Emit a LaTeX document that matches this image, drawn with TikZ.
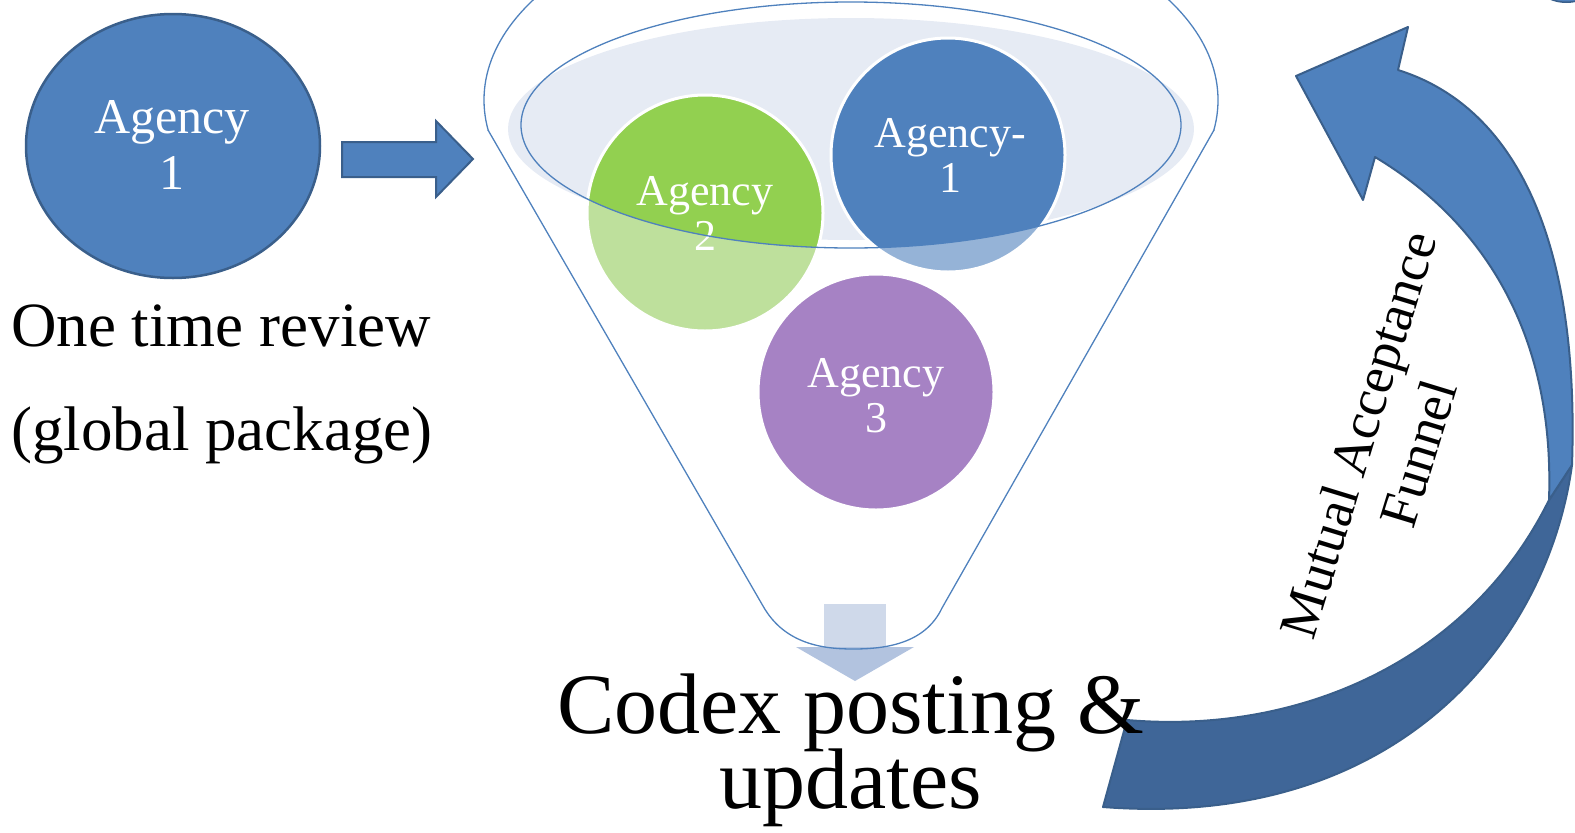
\documentclass[tikz,border=0pt]{standalone}
\usepackage{fontspec}
\setmainfont{Liberation Serif}
\definecolor{mblue}{HTML}{4F81BD}
\definecolor{dblue}{HTML}{3F6698}
\definecolor{bordc}{HTML}{3A5F8B}
\definecolor{lblue}{HTML}{95B3D7}
\definecolor{mgreen}{HTML}{92D050}
\definecolor{lgreen}{HTML}{BEE09C}
\definecolor{mpurple}{HTML}{A682C4}
\definecolor{shfill}{HTML}{E6EBF4}
\definecolor{arrrect}{HTML}{CFD9EA}
\definecolor{arrhead}{HTML}{B2C3DF}
\begin{document}
\lineskiplimit=-1000pt
\begin{tikzpicture}[x=1pt,y=-1pt,
  ctext/.style={text=white, align=center, inner sep=0pt, font=\fontsize{44}{45}\selectfont},
  ctextbig/.style={text=white, align=center, inner sep=0pt, font=\fontsize{50}{56}\selectfont},
  funnelline/.style={draw=mblue, line width=1.3pt},
  ring/.style={draw=white, line width=3pt},
  arrowpart/.style={draw=bordc, line width=2pt, line join=round}]
\useasboundingbox (0,0) rectangle (1575,833);

% Agency 1 (left)
\fill[mblue, draw=bordc, line width=2.5pt] (173,146) ellipse [x radius=147, y radius=132];
\node[ctextbig] (ag1) at (172,145) {Agency\\1};

% block arrow
\path[fill=mblue, draw=bordc, line width=2pt] (342,142) -- (436,142) -- (436,121) -- (473,159) -- (436,197) -- (436,177) -- (342,177) -- cycle;

\node[anchor=west, align=left, inner sep=0pt, font=\fontsize{63}{104}\selectfont] (rev) at (11,384) {One time review\\(global package)};

% funnel back ellipse
\fill[shfill] (851,129) ellipse [x radius=343, y radius=111];

% circles
\fill[lgreen] (705,213) circle [radius=118];
\fill[lblue] (948,155) circle [radius=117];
\begin{scope}
  \clip (851,125) ellipse [x radius=330, y radius=123];
  \fill[mgreen] (705,213) circle [radius=118];
  \fill[mblue] (948,155) circle [radius=117];
\end{scope}
\fill[mpurple] (876,392) circle [radius=118];
\draw[ring] (705,213) circle [radius=118];
\draw[ring] (948,155) circle [radius=117];
\draw[ring] (876,392) circle [radius=118];

\node[ctext] (ag2) at (705,213) {Agency\\2};
\node[ctext] (ag1b) at (950,155) {Agency-\\1};
\node[ctext] (ag3) at (876,396) {Agency\\3};

% down arrow in funnel
\fill[arrrect] (824,604) rectangle (886,647);
\fill[arrhead] (796,647) -- (914,647) -- (855,681) -- cycle;

% inner ellipse rim
\draw[funnelline] (851,125) ellipse [x radius=330, y radius=123];
% outer rim (upper part of ellipse)
\begin{scope}
  \clip (400,-10) rectangle (1300,130);
  \draw[funnelline] (851,100) ellipse [x radius=367, y radius=200];
\end{scope}
% funnel sides and bottom
\draw[funnelline, line join=round] (488,130) -- (763,606) .. controls (785,645) and (825,649) .. (853,649) .. controls (885,649) and (925,644) .. (942,608) -- (1214,130);

% curved arrow: back (dark) part
\path[fill=dblue, arrowpart] (1103,807) -- (1127,720) .. controls (1300,735) and (1470,660) .. (1549,500) -- (1572,465) .. controls (1548,640) and (1400,830) .. (1103,807) -- cycle;
% curved arrow: front (light) part with head
\path[fill=mblue, arrowpart] (1375,157) -- (1363,200) -- (1296,76) -- (1408,27) -- (1398,70) .. controls (1510,105) and (1580,230) .. (1572,465) -- (1549,500) .. controls (1555,330) and (1480,220) .. (1375,157) -- cycle;
% fragment of a shape cut off at the top-right corner
\path[fill=mblue, draw=bordc, line width=1.5pt] (1548,-2) .. controls (1558,3) and (1568,3) .. (1577,1) -- (1577,-2) -- cycle;

\node[rotate=73, align=center, inner sep=0pt, font=\fontsize{54}{63}\selectfont] (maf) at (1388,444) {Mutual Acceptance\\Funnel};

\node[align=center, inner sep=0pt, font=\fontsize{86}{75}\selectfont] (codex) at (851,750) {Codex posting \&\\updates};
\end{tikzpicture}
\end{document}
